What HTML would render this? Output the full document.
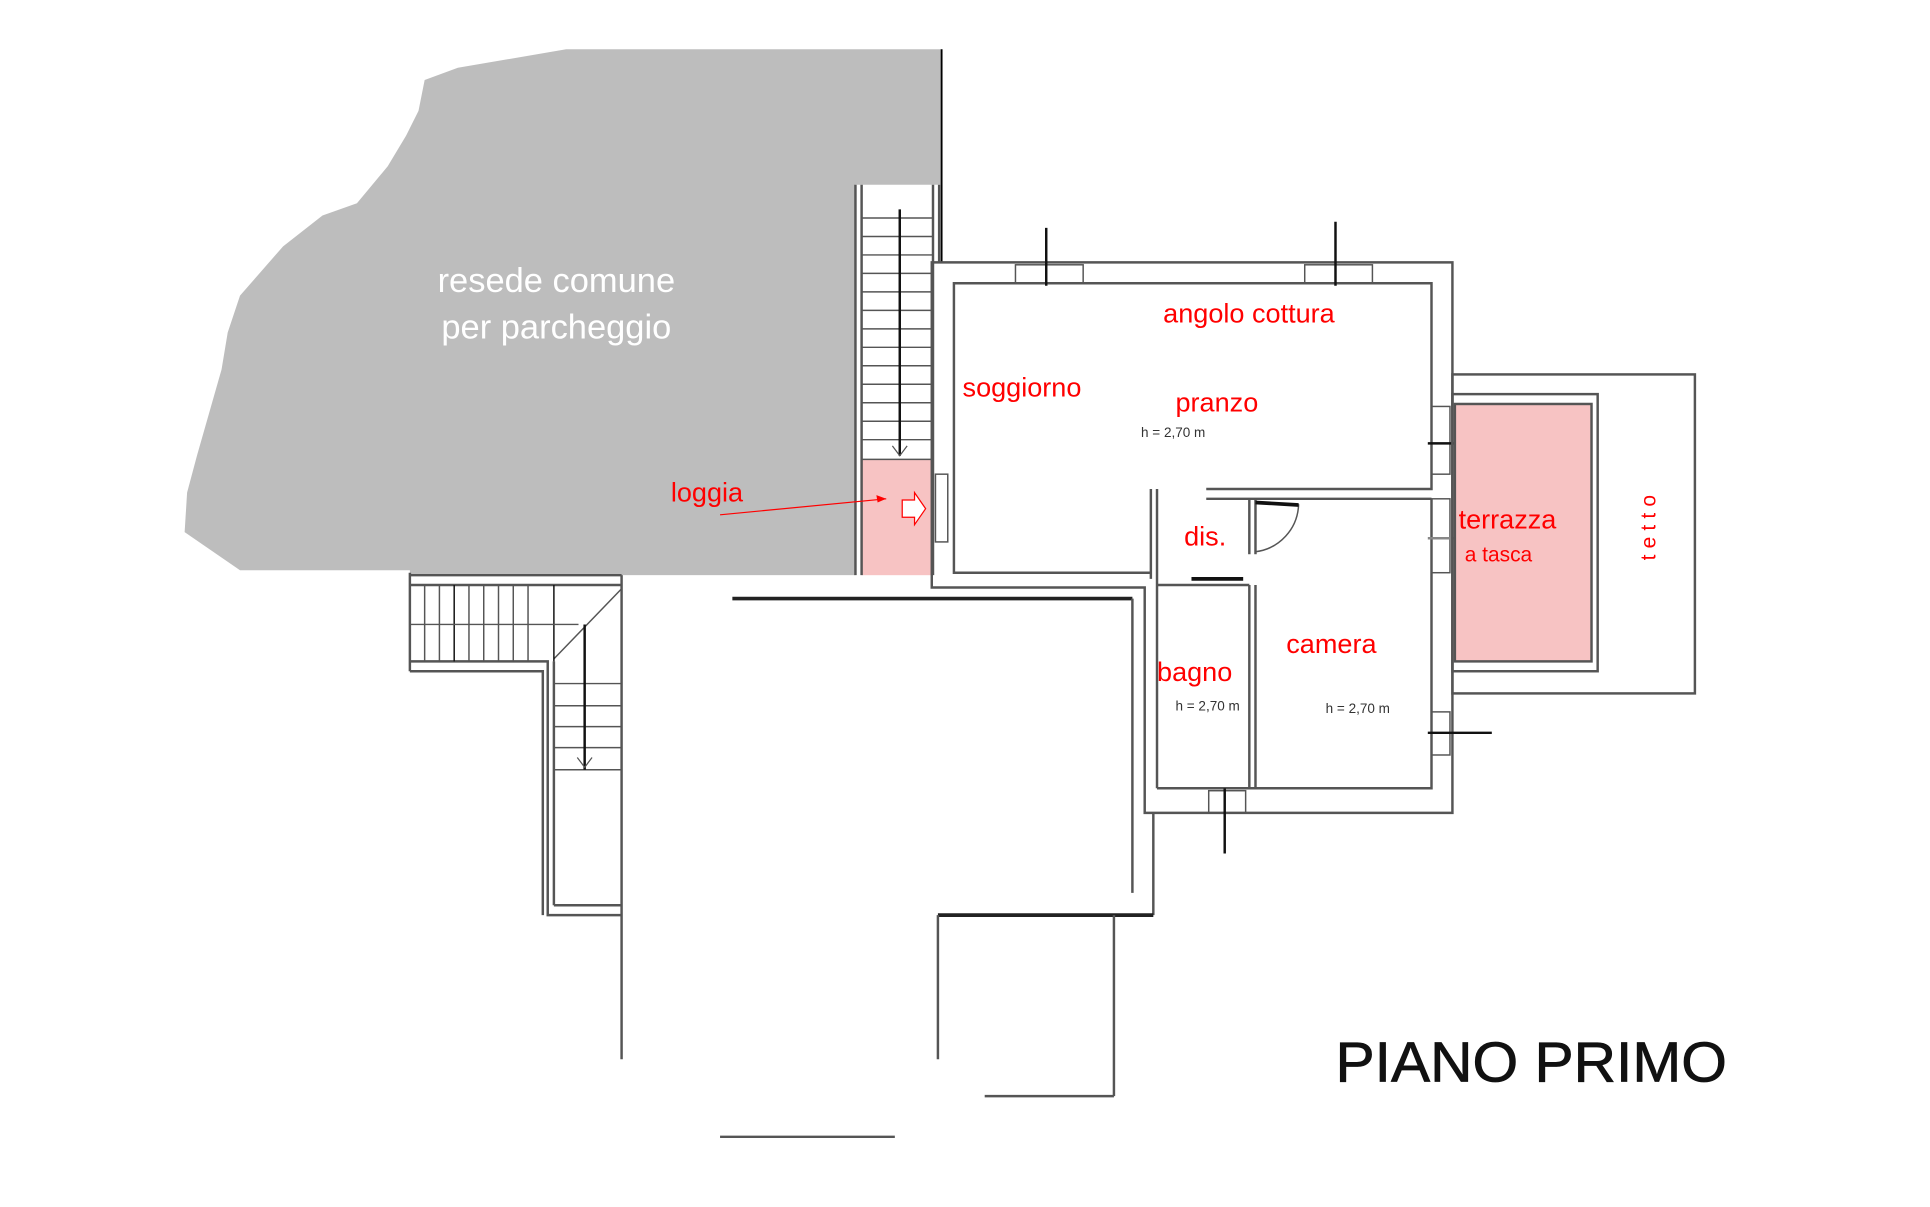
<!DOCTYPE html>
<html><head><meta charset="utf-8"><style>
html,body{margin:0;padding:0;background:#fff;width:1930px;height:1207px;overflow:hidden}
svg{display:block}
text{font-family:"Liberation Sans",sans-serif}
.r{fill:#f00}
</style></head><body>
<svg width="1930" height="1207" viewBox="0 0 1568 980" preserveAspectRatio="none" xmlns="http://www.w3.org/2000/svg">
<g fill="none" stroke="#555" stroke-width="2">
<polygon fill="#bdbdbd" stroke="none" points="345,65 372,55 460,40 765,40 765,150 695,150 695,467 333,467 333,463 195,463 150,432 152,400 160,370 180,300 185,270 195,240 230,200 262,175 290,165 315,135 330,110 340,90"/>
<line x1="765" y1="40" x2="765" y2="213" stroke="#000" stroke-width="1.5"/>
<rect x="700" y="373" width="57" height="94" fill="#f7c3c3" stroke="none"/>
<line x1="695" y1="150" x2="695" y2="467"/><line x1="700" y1="150" x2="700" y2="467"/>
<line x1="758" y1="150" x2="758" y2="467"/><line x1="763" y1="150" x2="763" y2="213"/>
<g stroke-width="1.2">
<line x1="700" y1="177" x2="758" y2="177"/><line x1="700" y1="192" x2="758" y2="192"/><line x1="700" y1="207" x2="758" y2="207"/><line x1="700" y1="222" x2="758" y2="222"/><line x1="700" y1="237" x2="758" y2="237"/><line x1="700" y1="252" x2="758" y2="252"/><line x1="700" y1="267" x2="758" y2="267"/><line x1="700" y1="282" x2="758" y2="282"/><line x1="700" y1="297" x2="758" y2="297"/><line x1="700" y1="312" x2="758" y2="312"/><line x1="700" y1="327" x2="758" y2="327"/><line x1="700" y1="342" x2="758" y2="342"/><line x1="700" y1="357" x2="758" y2="357"/><line x1="700" y1="373" x2="758" y2="373"/>
</g>
<line x1="731" y1="170" x2="731" y2="370" stroke="#111"/>
<polyline points="725,362 731,370 737,362" stroke-width="1"/>
<polyline points="757,467 757,213 1180,213 1180,660 930,660 930,477 757,477 757,467"/>
<polyline points="935,465 775,465 775,230 1163,230 1163,397 980,397"/>
<polyline points="980,405 1163,405"/>
<line x1="935" y1="397" x2="935" y2="470"/><line x1="940" y1="397" x2="940" y2="640"/>
<polyline points="940,640 1163,640 1163,405"/>
<line x1="1015" y1="405" x2="1015" y2="450"/><line x1="1020" y1="405" x2="1020" y2="450"/>
<line x1="1015" y1="475" x2="1015" y2="640"/><line x1="1020" y1="475" x2="1020" y2="640"/>
<line x1="940" y1="475" x2="1015" y2="475"/>
<path d="M1020,408 L1055,410 A40,40 0 0 1 1020,448" stroke-width="1.2"/>
<line x1="1020" y1="408" x2="1055" y2="410" stroke="#111" stroke-width="3"/>
<line x1="968" y1="470" x2="1010" y2="470" stroke="#111" stroke-width="3"/>
<rect x="825" y="215" width="55" height="15" stroke-width="1.2"/><line x1="850" y1="185" x2="850" y2="232" stroke="#111"/>
<rect x="1060" y="215" width="55" height="15" stroke-width="1.2"/><line x1="1085" y1="180" x2="1085" y2="232" stroke="#111"/>
<rect x="1163" y="330" width="15" height="55" stroke-width="1.2"/><line x1="1160" y1="360" x2="1212" y2="360" stroke="#111"/>
<rect x="1163" y="405" width="15" height="60" stroke-width="1.2"/><line x1="1160" y1="437" x2="1212" y2="437" stroke="#888"/>
<rect x="1163" y="578" width="15" height="35" stroke-width="1.2"/><line x1="1160" y1="595" x2="1212" y2="595" stroke="#111"/>
<rect x="982" y="642" width="30" height="18" stroke-width="1.2"/><line x1="995" y1="640" x2="995" y2="693" stroke="#111"/>
<rect x="760" y="385" width="10" height="55" stroke-width="1.2"/>
<rect x="1180" y="304" width="197" height="259"/>
<rect x="1180" y="320" width="118" height="225"/>
<rect x="1182" y="328" width="111" height="209" fill="#f7c3c3"/>
<line x1="595" y1="486" x2="920" y2="486" stroke="#222" stroke-width="3"/>
<line x1="920" y1="486" x2="920" y2="725"/>
<line x1="937" y1="660" x2="937" y2="743"/>
<line x1="762" y1="743" x2="937" y2="743" stroke="#222" stroke-width="3"/>
<line x1="762" y1="743" x2="762" y2="860"/>
<line x1="905" y1="743" x2="905" y2="890"/>
<line x1="800" y1="890" x2="905" y2="890"/>
<line x1="505" y1="467" x2="505" y2="860"/>
<line x1="585" y1="923" x2="727" y2="923"/>
<line x1="333" y1="467" x2="505" y2="467"/><line x1="333" y1="475" x2="505" y2="475"/>
<line x1="333" y1="465" x2="333" y2="545"/>
<polyline points="333,537 445,537 445,743 505,743"/>
<polyline points="333,545 441,545 441,743"/>
<line x1="450" y1="537" x2="450" y2="735"/>
<line x1="450" y1="735" x2="505" y2="735"/>
<line x1="450" y1="535" x2="505" y2="478" stroke-width="1.2"/>
<g stroke-width="1.2">
<line x1="345" y1="475" x2="345" y2="537"/><line x1="357" y1="475" x2="357" y2="537"/><line x1="369" y1="475" x2="369" y2="537" stroke="#111"/><line x1="381" y1="475" x2="381" y2="537"/><line x1="393" y1="475" x2="393" y2="537"/><line x1="405" y1="475" x2="405" y2="537"/><line x1="417" y1="475" x2="417" y2="537"/><line x1="429" y1="475" x2="429" y2="537"/><line x1="450" y1="475" x2="450" y2="537" stroke="#111"/>
<line x1="333" y1="507" x2="470" y2="507"/>
<line x1="450" y1="555" x2="505" y2="555"/><line x1="450" y1="573" x2="505" y2="573"/><line x1="450" y1="590" x2="505" y2="590"/><line x1="450" y1="607" x2="505" y2="607"/><line x1="450" y1="625" x2="505" y2="625"/>
</g>
<line x1="475" y1="507" x2="475" y2="625" stroke="#111"/>
<polyline points="469,615 475,623 481,615" stroke-width="1"/>
</g>
<line x1="585" y1="418" x2="720" y2="405" stroke="#f00" stroke-width="1"/>
<polygon points="720,405 712,402 713,408" fill="#f00"/>
<path d="M733,406 h10 v-6 l9,13 -9,13 v-6 h-10 z" fill="#fff" stroke="#f00" stroke-width="1"/>
<text x="452" y="237" fill="#fff" font-size="28" text-anchor="middle">resede comune</text>
<text x="452" y="275" fill="#fff" font-size="28" text-anchor="middle">per parcheggio</text>
<g class="r" font-size="22">
<text x="945" y="262">angolo cottura</text>
<text x="782" y="322">soggiorno</text>
<text x="955" y="334">pranzo</text>
<text x="545" y="407">loggia</text>
<text x="962" y="443">dis.</text>
<text x="1185" y="429">terrazza</text>
<text x="1045" y="530">camera</text>
<text x="940" y="553">bagno</text>
</g>
<text x="1190" y="456" class="r" font-size="17">a tasca</text>
<text transform="translate(1345,455) rotate(-90)" class="r" font-size="17" letter-spacing="5">tetto</text>
<g font-size="11" fill="#333">
<text x="927" y="355">h = 2,70 m</text>
<text x="955" y="577">h = 2,70 m</text>
<text x="1077" y="579">h = 2,70 m</text>
</g>
<text x="1085" y="878" font-size="46" fill="#111" stroke="#111" stroke-width="0.6" textLength="318" lengthAdjust="spacingAndGlyphs">PIANO PRIMO</text>
</svg>
</body></html>
